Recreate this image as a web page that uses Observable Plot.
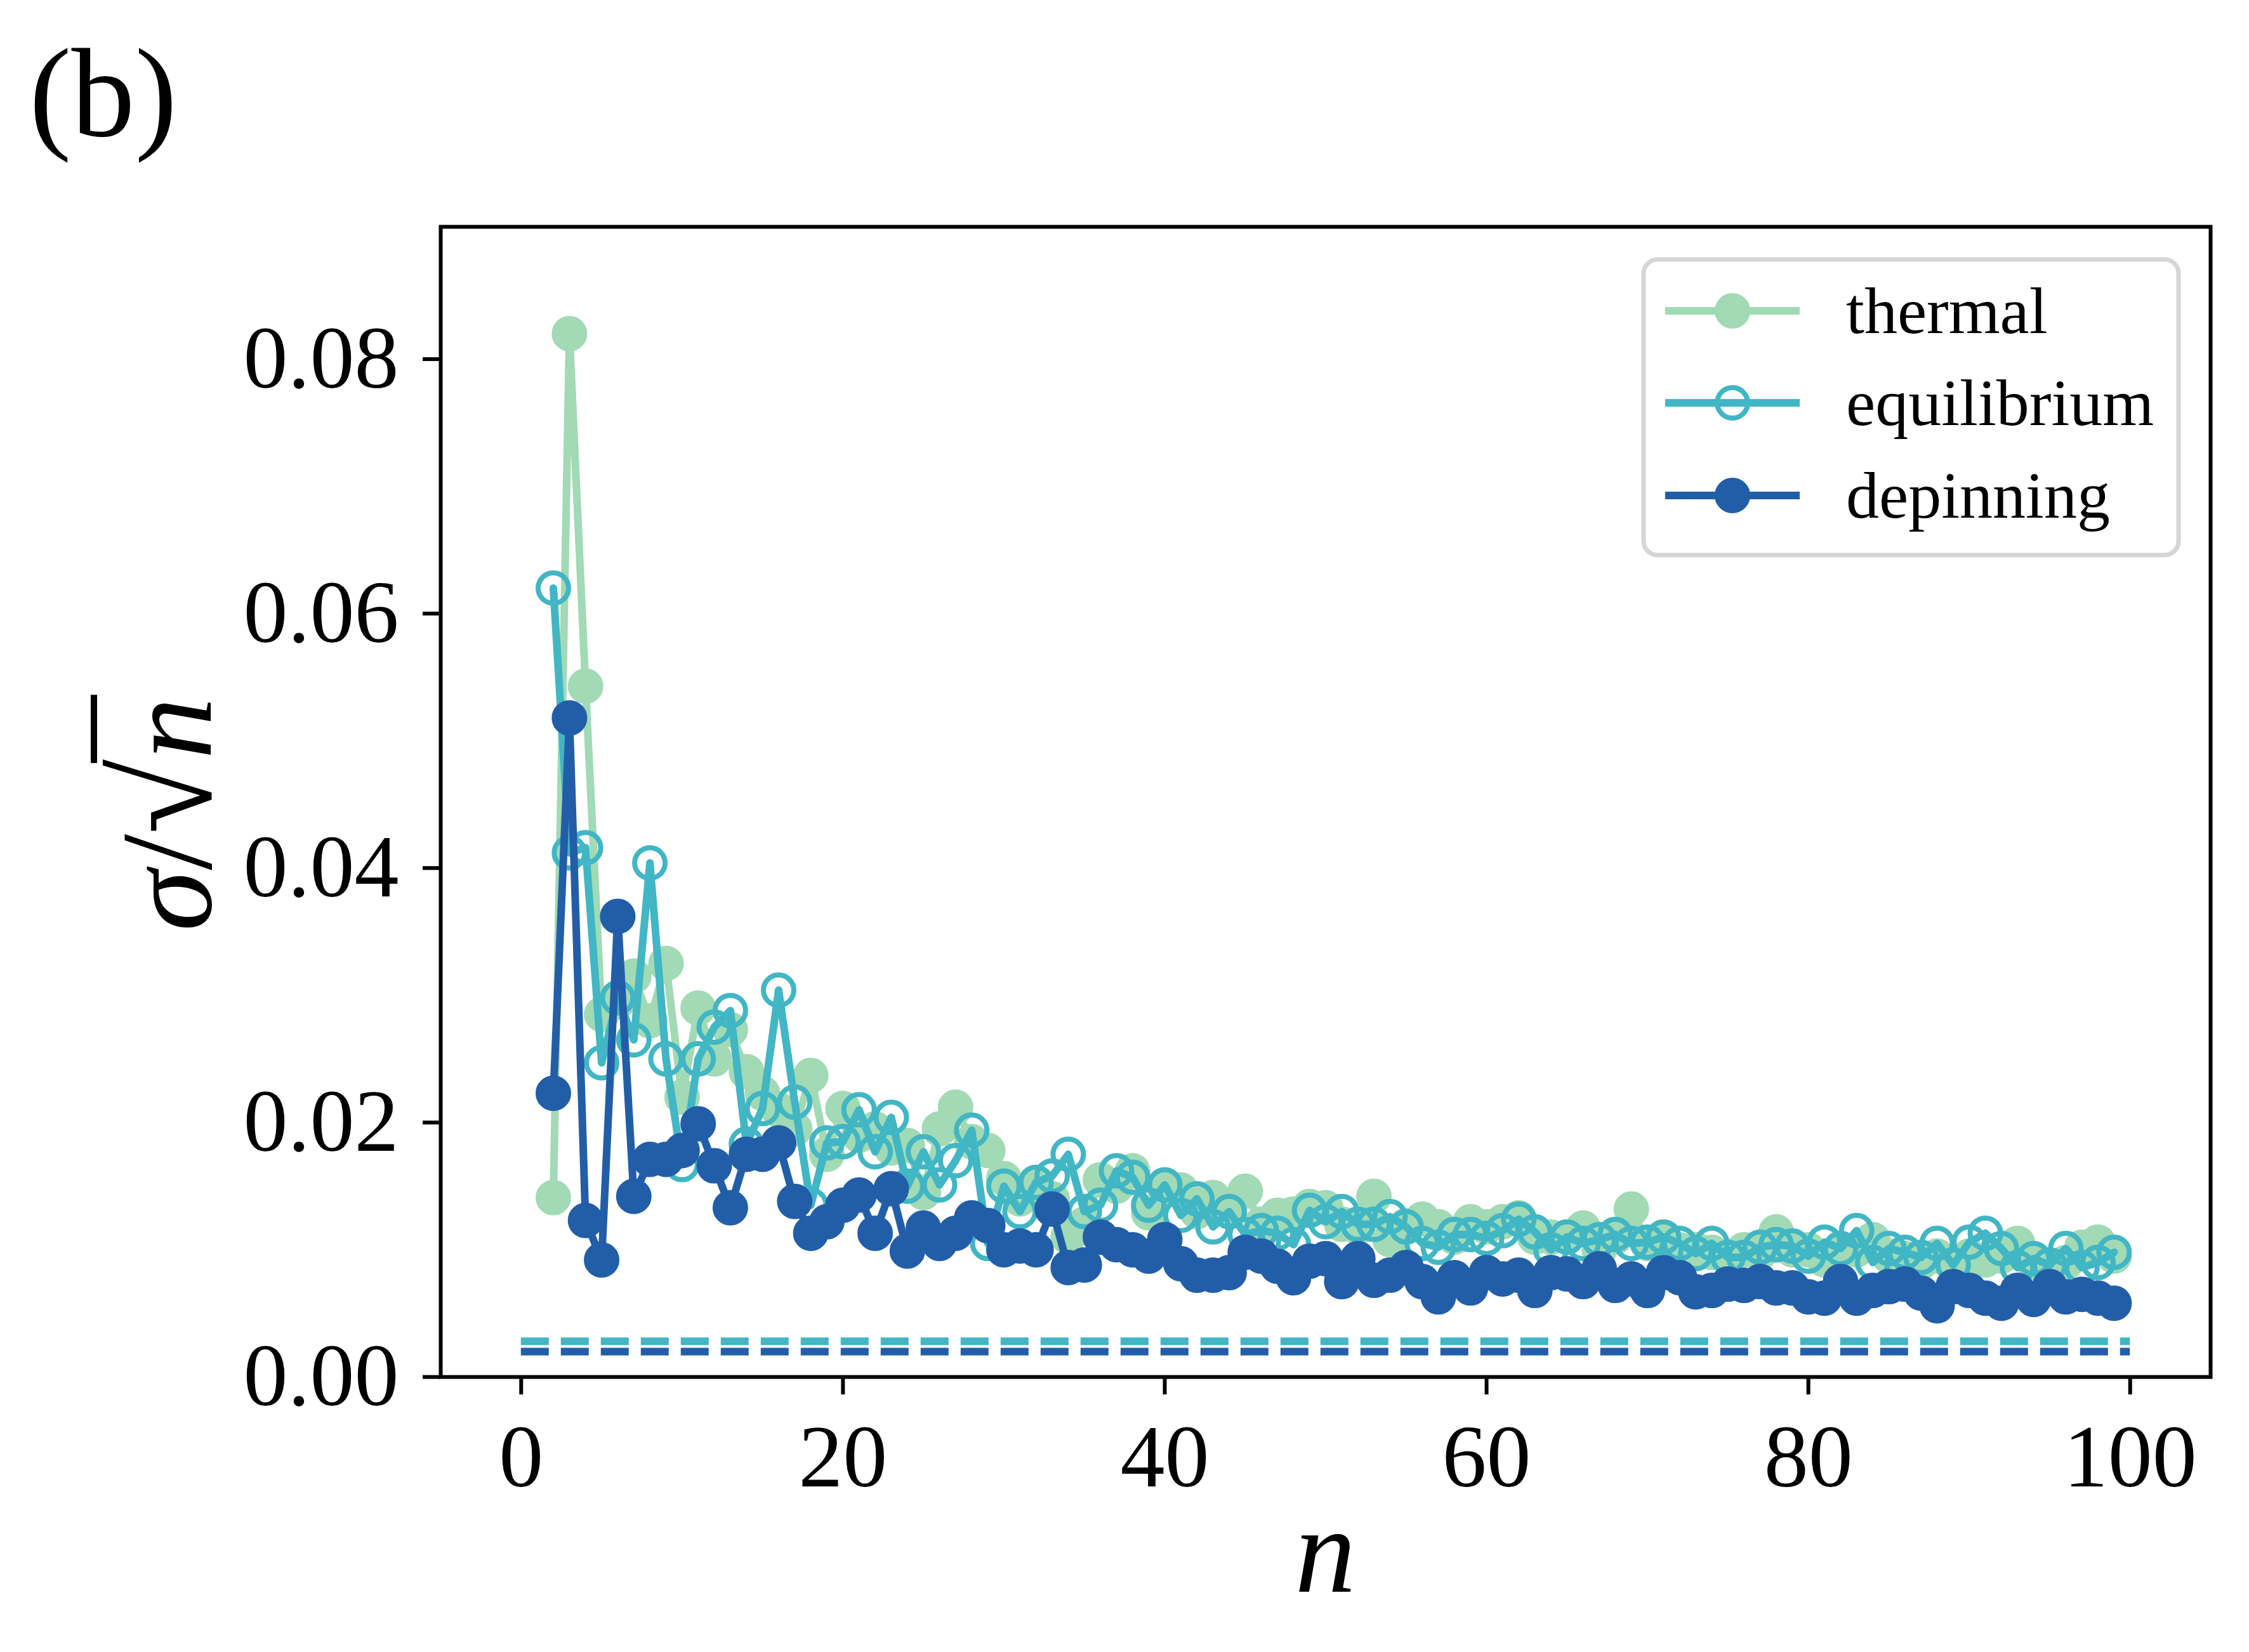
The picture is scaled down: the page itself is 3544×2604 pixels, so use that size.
<!DOCTYPE html>
<html>
<head>
<meta charset="utf-8">
<script src="https://cdn.jsdelivr.net/npm/d3@7"></script>
<script src="https://cdn.jsdelivr.net/npm/@observablehq/plot@0.6"></script>
<style>
  html, body { margin: 0; padding: 0; background: #ffffff; }
  #chart { position: relative; width: 3544px; height: 2604px; overflow: hidden; }
</style>
</head>
<body>
<div id="chart"></div>
<script>
// ---------------- data ----------------
const nValues = [2,3,4,5,6,7,8,9,10,11,12,13,14,15,16,17,18,19,20,21,22,23,24,25,26,27,28,29,30,31,32,33,34,35,36,37,38,39,40,41,42,43,44,45,46,47,48,49,50,51,52,53,54,55,56,57,58,59,60,61,62,63,64,65,66,67,68,69,70,71,72,73,74,75,76,77,78,79,80,81,82,83,84,85,86,87,88,89,90,91,92,93,94,95,96,97,98,99];

const thermal = [
  0.0141,0.0820,0.0543,0.0285,0.0295,0.0315,0.0280,0.0325,0.0220,0.0290,
  0.0250,0.0273,0.0240,0.0223,0.0210,0.0195,0.0237,0.0175,0.0211,0.0190,
  0.0195,0.0180,0.0182,0.0145,0.0195,0.0212,0.0185,0.0178,0.0156,0.0140,
  0.0150,0.0140,0.0110,0.0120,0.0155,0.0150,0.0162,0.0129,0.0148,0.0147,
  0.0130,0.0141,0.0130,0.0146,0.0120,0.0127,0.0128,0.0134,0.0133,0.0120,
  0.0118,0.0142,0.0108,0.0119,0.0124,0.0118,0.0110,0.0122,0.0118,0.0122,
  0.0125,0.0110,0.0110,0.0110,0.0117,0.0100,0.0110,0.0132,0.0105,0.0110,
  0.0100,0.0100,0.0098,0.0095,0.0100,0.0098,0.0114,0.0100,0.0100,0.0092,
  0.0100,0.0100,0.0108,0.0095,0.0093,0.0090,0.0095,0.0090,0.0095,0.0092,
  0.0095,0.0105,0.0090,0.0085,0.0090,0.0102,0.0106,0.0095
];

const equilibrium = [
  0.0620,0.0412,0.0416,0.0247,0.0298,0.0265,0.0404,0.0250,0.0167,0.0250,
  0.0275,0.0288,0.0183,0.0211,0.0304,0.0216,0.0135,0.0184,0.0185,0.0210,
  0.0177,0.0204,0.0150,0.0177,0.0151,0.0170,0.0194,0.0105,0.0150,0.0130,
  0.0153,0.0158,0.0175,0.0130,0.0135,0.0162,0.0157,0.0135,0.0151,0.0127,
  0.0140,0.0118,0.0130,0.0112,0.0115,0.0113,0.0104,0.0131,0.0122,0.0130,
  0.0120,0.0120,0.0126,0.0118,0.0105,0.0102,0.0112,0.0112,0.0109,0.0115,
  0.0124,0.0114,0.0100,0.0110,0.0105,0.0108,0.0112,0.0105,0.0106,0.0110,
  0.0105,0.0097,0.0105,0.0094,0.0094,0.0102,0.0104,0.0103,0.0095,0.0106,
  0.0101,0.0115,0.0090,0.0101,0.0098,0.0094,0.0105,0.0088,0.0106,0.0113,
  0.0101,0.0086,0.0093,0.0088,0.0101,0.0086,0.0090,0.0098
];

const depinning = [
  0.0223,0.0518,0.0123,0.0092,0.0362,0.0142,0.0171,0.0171,0.0178,0.0199,
  0.0166,0.0133,0.0175,0.0175,0.0184,0.0138,0.0113,0.0122,0.0135,0.0143,
  0.0113,0.0148,0.0099,0.0117,0.0105,0.0113,0.0125,0.0119,0.0100,0.0103,
  0.0100,0.0132,0.0086,0.0088,0.0110,0.0104,0.0100,0.0095,0.0108,0.0089,
  0.0080,0.0080,0.0082,0.0098,0.0095,0.0087,0.0078,0.0091,0.0093,0.0075,
  0.0093,0.0076,0.0080,0.0086,0.0075,0.0063,0.0078,0.0070,0.0082,0.0077,
  0.0080,0.0068,0.0082,0.0081,0.0075,0.0085,0.0072,0.0077,0.0068,0.0082,
  0.0078,0.0067,0.0068,0.0073,0.0072,0.0075,0.0070,0.0070,0.0063,0.0062,
  0.0075,0.0062,0.0068,0.0071,0.0073,0.0066,0.0056,0.0071,0.0068,0.0062,
  0.0058,0.0068,0.0061,0.0071,0.0063,0.0065,0.0062,0.0058
];

// asymptotic levels (dashed lines) and their n span
const levelEquilibrium = [0.0028];
const levelDepinning = [0.0020];
const levelSpan = [0, 100];

const xTicks = [0, 20, 40, 60, 80, 100];
const yTicks = [0.00, 0.02, 0.04, 0.06, 0.08];

const seriesNames = ["thermal", "equilibrium", "depinning"];
const colors = { thermal: "#a1dab4", equilibrium: "#41b6c4", depinning: "#225ea8" };

// ---------------- build ----------------
const rows = (vals) => nValues.map((n, i) => ({ n, v: vals[i] }));
const tRows = rows(thermal), eRows = rows(equilibrium), dRows = rows(depinning);

const W = 3544, H = 2604;
const mL = 694, mR = 61, mT = 357, mB = 434;
const LW = 12;

const plot = Plot.plot({
  width: W,
  height: H,
  marginLeft: mL,
  marginRight: mR,
  marginTop: mT,
  marginBottom: mB,
  style: { fontFamily: "'Liberation Serif', 'DejaVu Serif', serif", fontSize: "140px", background: "#ffffff", color: "#000000", overflow: "visible" },
  x: { domain: [-5, 105] },
  y: { domain: [0, 0.0904] },
  marks: [
    Plot.axisX({ ticks: xTicks, tickSize: 28, tickPadding: 45, strokeWidth: 6, fontSize: 140, label: null, tickFormat: d3.format("d") }),
    Plot.axisY({ ticks: yTicks, tickSize: 28, tickPadding: 38, strokeWidth: 6, fontSize: 140, label: null, tickFormat: d3.format(".2f") }),
    // thermal
    Plot.line(tRows, { x: "n", y: "v", stroke: colors.thermal, strokeWidth: LW, strokeLinejoin: "round" }),
    Plot.dot(tRows, { x: "n", y: "v", r: 24, fill: colors.thermal, stroke: colors.thermal, strokeWidth: 8 }),
    // equilibrium
    Plot.line(eRows, { x: "n", y: "v", stroke: colors.equilibrium, strokeWidth: LW, strokeLinejoin: "round" }),
    Plot.dot(eRows, { x: "n", y: "v", r: 24, fill: "none", stroke: colors.equilibrium, strokeWidth: 8 }),
    // depinning
    Plot.line(dRows, { x: "n", y: "v", stroke: colors.depinning, strokeWidth: LW, strokeLinejoin: "round" }),
    Plot.dot(dRows, { x: "n", y: "v", r: 24, fill: colors.depinning, stroke: colors.depinning, strokeWidth: 8 }),
    // dashed asymptotic levels
    Plot.ruleY(levelEquilibrium, { x1: levelSpan[0], x2: levelSpan[1], stroke: colors.equilibrium, strokeWidth: LW, strokeDasharray: "44,19" }),
    Plot.ruleY(levelDepinning, { x1: levelSpan[0], x2: levelSpan[1], stroke: colors.depinning, strokeWidth: LW, strokeDasharray: "44,19" }),
    Plot.frame({ stroke: "#000000", strokeWidth: 6 })
  ]
});

document.getElementById("chart").appendChild(plot);

const svg = d3.select(plot);
const serif = "'Liberation Serif', 'DejaVu Serif', serif";

// panel label
svg.append("text")
  .attr("x", 46).attr("y", 214)
  .attr("text-anchor", "start")
  .attr("font-family", serif).attr("font-size", 200)
  .attr("fill", "#000")
  .text("(b)");

// x label
svg.append("text")
  .attr("x", (mL + (W - mR)) / 2).attr("y", 2509)
  .attr("text-anchor", "middle")
  .attr("font-family", serif).attr("font-size", 192).attr("font-style", "italic")
  .attr("fill", "#000")
  .text("n");

// y label  σ/√n  (radicand bar drawn from the rendered glyph extents)
const ylg = svg.append("g")
  .attr("transform", `translate(332,${(mT + (H - mB)) / 2 + 20}) rotate(-90)`);
const yl = ylg.append("text")
  .attr("x", 0).attr("y", 0)
  .attr("text-anchor", "middle")
  .attr("font-family", serif).attr("font-size", 195)
  .attr("fill", "#000");
yl.append("tspan").attr("font-style", "italic").text("σ");
yl.append("tspan").attr("font-size", 205).text("/");
yl.append("tspan").attr("font-size", 215).text("√");
yl.append("tspan").attr("font-style", "italic").text("n");
try {
  const node = yl.node();
  const nch = node.getNumberOfChars();
  const rad = node.getExtentOfChar(nch - 2);
  const nn = node.getExtentOfChar(nch - 1);
  const yb = rad.y + 8;
  ylg.append("line")
    .attr("x1", rad.x + rad.width - 6).attr("x2", nn.x + nn.width + 4)
    .attr("y1", yb).attr("y2", yb)
    .attr("stroke", "#000").attr("stroke-width", 10);
} catch (e) {}

// legend
const lg = svg.append("g").attr("text-anchor", "start");
lg.append("rect")
  .attr("x", 2590).attr("y", 409).attr("width", 843).attr("height", 466)
  .attr("rx", 22).attr("ry", 22)
  .attr("fill", "#ffffff").attr("fill-opacity", 0.8)
  .attr("stroke", "#d6d6d6").attr("stroke-width", 7);

const rowY = [490, 635, 781];
seriesNames.forEach((name, i) => {
  const y = rowY[i];
  const c = colors[name];
  lg.append("line")
    .attr("x1", 2624).attr("x2", 2836).attr("y1", y).attr("y2", y)
    .attr("stroke", c).attr("stroke-width", LW);
  lg.append("circle")
    .attr("cx", 2730).attr("cy", y).attr("r", 24)
    .attr("fill", name === "equilibrium" ? "none" : c)
    .attr("stroke", c).attr("stroke-width", 8);
  lg.append("text")
    .attr("x", 2909).attr("y", y + 35)
    .attr("text-anchor", "start")
    .attr("font-family", serif).attr("font-size", 104)
    .attr("fill", "#000")
    .text(name);
});
</script>
</body>
</html>
